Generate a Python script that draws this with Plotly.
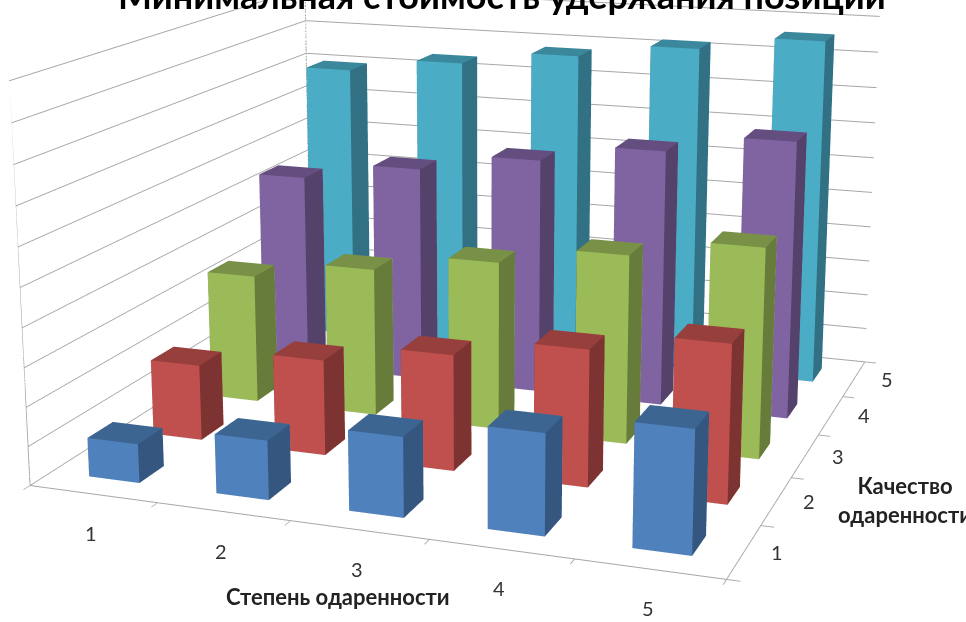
import plotly.graph_objects as go

# Bar heights per quality row, one value for each degree category
CATEGORIES = [1, 2, 3, 4, 5]
BLUE = [1.0, 1.5, 2.0, 2.5, 3.0]
RED = [2.0, 2.5, 3.0, 3.5, 4.0]
GREEN = [3.5, 4.0, 4.5, 5.0, 5.5]
PURPLE = [5.5, 6.0, 6.5, 7.0, 7.5]
CYAN = [8.0, 8.4, 8.8, 9.2, 9.6]
Z_TOP = 10

TITLE = "Минимальная стоимость удержания позиции"
X_TITLE = "Степень одаренности"
Y_TITLE = "Качество<br>одаренности"

# Long-lens view: a tall scene whose upper part sits above the page top
SCENE_H = 1852
SCENE_TOP = 699
EYE = dict(x=1.0909, y=-3.0609, z=0.8175)
CENTER = dict(x=0.0004, y=0.0040, z=0.0131)
ASPECT = dict(x=1, y=0.9725, z=0.5759)

X_HALF = 0.2
Y_HALF = 0.19
GRID = "#a6a6a6"


def py2paper(py):
    return 1 - (py + SCENE_TOP) / SCENE_H


SERIES = [(1, BLUE, "#4F81BD", "#3D6592", "#34567F"),
          (2, RED, "#C0504D", "#963F3D", "#7C3331"),
          (3, GREEN, "#9BBB59", "#789146", "#677C3B"),
          (4, PURPLE, "#8064A2", "#644E7F", "#54426B"),
          (5, CYAN, "#4BACC6", "#3B879B", "#317183")]


def bars(row, values, front, top, side):
    xs, ys, zs, ii, jj, kk, fc = [], [], [], [], [], [], []
    for cat, v in zip(CATEGORIES, values):
        b = len(xs)
        for dz in (0, v):
            for dx, dy in ((-X_HALF, -Y_HALF), (X_HALF, -Y_HALF), (X_HALF, Y_HALF), (-X_HALF, Y_HALF)):
                xs.append(cat + dx)
                ys.append(row + dy)
                zs.append(dz)
        faces = [((0, 1, 5), front), ((0, 5, 4), front), ((1, 2, 6), side), ((1, 6, 5), side),
                 ((4, 5, 6), top), ((4, 6, 7), top), ((0, 3, 7), side), ((0, 7, 4), side),
                 ((3, 2, 6), front), ((3, 6, 7), front), ((0, 1, 2), top), ((0, 2, 3), top)]
        for (a, c, d), col in faces:
            ii.append(b + a)
            jj.append(b + c)
            kk.append(b + d)
            fc.append(col)
    return go.Mesh3d(x=xs, y=ys, z=zs, i=ii, j=jj, k=kk, facecolor=fc, flatshading=True, hoverinfo="skip",
                     lighting=dict(ambient=1, diffuse=0, specular=0, fresnel=0, roughness=1))


fig = go.Figure([bars(*s) for s in SERIES])
# Vertical wall edges
for yy in (0.5, 5.5):
    fig.add_trace(go.Scatter3d(x=[0.5, 0.5], y=[yy, yy], z=[0, Z_TOP], mode="lines",
                               line=dict(color=GRID, width=2), hoverinfo="skip"))

EDGES = [0.5, 1.5, 2.5, 3.5, 4.5, 5.5]


def axis(rng, vals):
    return dict(range=rng, autorange=False, tickvals=vals, showticklabels=False, title=dict(text=""),
                showgrid=False, zeroline=False, showbackground=False, showline=True, linecolor=GRID,
                linewidth=2, ticks="outside", ticklen=10, tickwidth=2, tickcolor=GRID, showspikes=False)


LABEL = dict(family="Lato, Noto Sans", size=20, color="#333333")
HEAD = dict(family="Lato, Noto Sans", size=22, color="#222222")
anns = [dict(x=c, y=0.5, z=0, text=str(c), showarrow=False, yshift=-39, xshift=-2, font=LABEL) for c in CATEGORIES]
anns += [dict(x=5.5, y=c, z=0, text=str(c), showarrow=False, xshift=33, yshift=0, font=LABEL) for c in CATEGORIES]
zax = axis([0, Z_TOP], list(range(Z_TOP + 1)))
zax.update(showgrid=True, gridcolor=GRID, gridwidth=2, ticks="", showline=False)
fig.update_layout(
    width=966, height=SCENE_H, margin=dict(l=0, r=0, t=0, b=0), paper_bgcolor="white", showlegend=False,
    scene=dict(domain=dict(x=[0, 1], y=[0, 1]),
               aspectmode="manual", aspectratio=ASPECT,
               camera=dict(eye=EYE, center=CENTER, up=dict(x=0, y=0, z=1), projection=dict(type="perspective")),
               xaxis=axis([0.5, 5.5], EDGES), yaxis=axis([0.5, 5.5], EDGES), zaxis=zax, annotations=anns),
    annotations=[
        dict(xref="paper", yref="paper", x=0.52, y=py2paper(19), yanchor="bottom", xanchor="center", showarrow=False,
             text=f"<b>{TITLE}</b>", font=dict(family="Lato, Noto Sans", size=36, color="black")),
        dict(xref="paper", yref="paper", x=0.35, y=py2paper(612), xanchor="center", showarrow=False,
             text=f"<b>{X_TITLE}</b>", font=HEAD),
        dict(xref="paper", yref="paper", x=0.937, y=py2paper(500), xanchor="center", showarrow=False,
             text=f"<b>{Y_TITLE}</b>", font=HEAD),
    ])
POST = f"""
var gd = document.getElementById('{{plot_id}}');
gd.style.marginTop = '-{SCENE_TOP}px';
document.documentElement.style.overflow = 'hidden';
document.body.style.overflow = 'hidden';
document.body.style.height = '622px';
"""
fig.write_html("out.html", post_script=POST)
